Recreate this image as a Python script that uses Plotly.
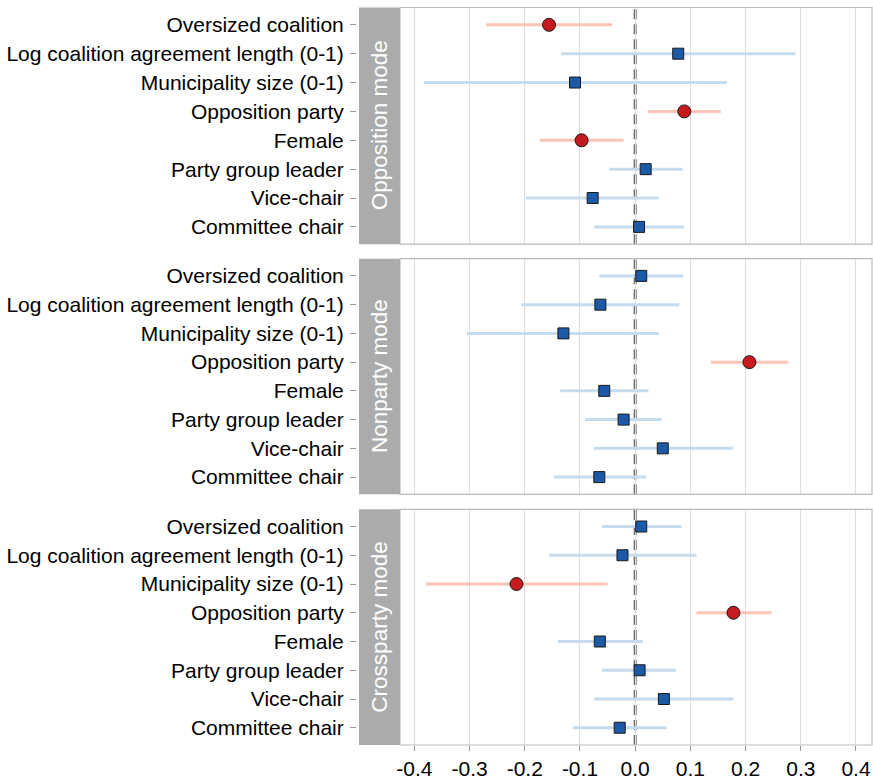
import plotly.graph_objects as go

categories = ["Oversized coalition", "Log coalition agreement length (0-1)",
              "Municipality size (0-1)", "Opposition party", "Female",
              "Party group leader", "Vice-chair", "Committee chair"]
modes = ["Opposition mode", "Nonparty mode", "Crossparty mode"]

opp_est = [-0.156, 0.078, -0.109, 0.089, -0.097, 0.019, -0.077, 0.007]
opp_lo = [-0.270, -0.134, -0.383, 0.023, -0.173, -0.047, -0.198, -0.074]
opp_hi = [-0.042, 0.290, 0.166, 0.155, -0.021, 0.086, 0.043, 0.088]

non_est = [0.011, -0.063, -0.130, 0.207, -0.056, -0.021, 0.050, -0.065]
non_lo = [-0.065, -0.206, -0.305, 0.137, -0.136, -0.091, -0.075, -0.148]
non_hi = [0.087, 0.080, 0.043, 0.277, 0.024, 0.048, 0.177, 0.020]

cro_est = [0.011, -0.023, -0.215, 0.178, -0.064, 0.008, 0.052, -0.028]
cro_lo = [-0.060, -0.156, -0.379, 0.111, -0.140, -0.060, -0.074, -0.113]
cro_hi = [0.084, 0.111, -0.050, 0.247, 0.014, 0.074, 0.178, 0.057]

x_ticks = [-0.4, -0.3, -0.2, -0.1, 0.0, 0.1, 0.2, 0.3, 0.4]
x_tick_text = ["-0.4", "-0.3", "-0.2", "-0.1", "0.0", "0.1", "0.2", "0.3", "0.4"]

data = [(opp_est, opp_lo, opp_hi), (non_est, non_lo, non_hi), (cro_est, cro_lo, cro_hi)]

W, H = 873, 781
ML, MR, MT, MB = 356, 1, 7, 32
PW = W - ML - MR
PH = H - MT - MB
x_dom0 = (400 - ML) / PW
strip_x0 = (359 - ML) / PW
panel_px = [(7.5, 245.5), (260, 497), (512, 749)]
domains = [[(H - MB - b) / PH, (H - MB - t) / PH] for t, b in panel_px]

RED = "#c51b1f"
RED_CI = "#fcc4b4"
BLUE = "#1c5aa8"
BLUE_CI = "#c5dcee"
xr = [-0.426, 0.429]
font = "Liberation Sans, Arial, sans-serif"

fig = go.Figure()
shapes = []
annotations = []
layout = {}
for i, (est, lo, hi) in enumerate(data):
    n = i + 1
    xa = "x" if n == 1 else f"x{n}"
    ya = "y" if n == 1 else f"y{n}"
    for j, cat in enumerate(categories):
        sig = (lo[j] > 0) or (hi[j] < 0)
        fig.add_trace(go.Scatter(x=[lo[j], hi[j]], y=[cat, cat], mode="lines",
                                 line=dict(color=RED_CI if sig else BLUE_CI, width=3),
                                 xaxis=xa, yaxis=ya, showlegend=False, hoverinfo="skip"))
    sig_idx = [j for j in range(len(categories)) if lo[j] > 0 or hi[j] < 0]
    ns_idx = [j for j in range(len(categories)) if j not in sig_idx]
    fig.add_trace(go.Scatter(x=[est[j] for j in ns_idx], y=[categories[j] for j in ns_idx],
                             mode="markers",
                             marker=dict(symbol="square", size=11, color=BLUE,
                                         line=dict(color="#1a1a1a", width=1)),
                             xaxis=xa, yaxis=ya, showlegend=False))
    fig.add_trace(go.Scatter(x=[est[j] for j in sig_idx], y=[categories[j] for j in sig_idx],
                             mode="markers",
                             marker=dict(symbol="circle", size=13, color=RED,
                                         line=dict(color="#1a1a1a", width=1)),
                             xaxis=xa, yaxis=ya, showlegend=False))
    last = (n == 3)
    layout[f"xaxis{n if n > 1 else ''}"] = dict(
        domain=[x_dom0, 1], anchor=ya, range=xr, tickvals=x_ticks, ticktext=x_tick_text,
        showticklabels=last, ticks="outside" if last else "", ticklen=5, tickcolor="#999999",
        showgrid=True, gridcolor="#dddddd", gridwidth=1, zeroline=False, showline=False,
        tickfont=dict(size=21, color="#000000", family=font),
        matches=None if n == 1 else "x")
    layout[f"yaxis{n if n > 1 else ''}"] = dict(
        domain=domains[i], anchor="free", position=0, type="category",
        categoryorder="array", categoryarray=categories, range=[7.6, -0.6],
        showgrid=False, zeroline=False, showline=False, ticks="outside", ticklen=6,
        tickcolor="#999999", tickfont=dict(size=21, color="#000000", family=font),
        ticklabelstandoff=2)
    # zero line
    shapes.append(dict(type="line", xref=xa, yref=f"{ya} domain", x0=0, x1=0, y0=0, y1=1,
                       line=dict(color="#6e6e6e", width=3, dash="10px,5px"), layer="below"))
    # panel border
    shapes.append(dict(type="rect", xref=f"{xa} domain", yref=f"{ya} domain",
                       x0=0, x1=1, y0=0, y1=1, line=dict(color="#bbbbbb", width=1.2)))
    # strip
    shapes.append(dict(type="rect", xref="paper", yref="paper", x0=strip_x0, x1=x_dom0,
                       y0=domains[i][0], y1=domains[i][1], fillcolor="#ababab",
                       line=dict(width=0), layer="above"))
    annotations.append(dict(text=modes[i], xref="paper", yref="paper",
                            x=(strip_x0 + x_dom0) / 2, y=sum(domains[i]) / 2,
                            textangle=-90, showarrow=False,
                            font=dict(size=22.5, color="#ffffff", family=font),
                            xanchor="center", yanchor="middle"))

fig.update_layout(width=W, height=H, margin=dict(l=ML, r=MR, t=MT, b=MB),
                  plot_bgcolor="#ffffff", paper_bgcolor="#ffffff",
                  shapes=shapes, annotations=annotations, **layout)
fig.write_html("out.html")
